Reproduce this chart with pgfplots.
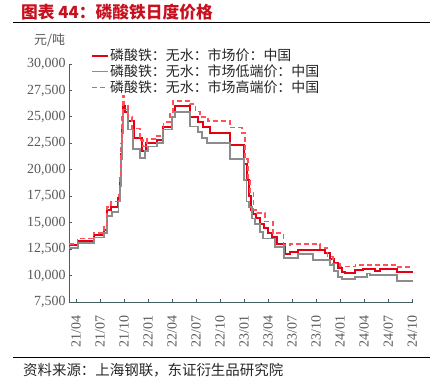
\documentclass[border=0pt]{standalone}
\usepackage{fontspec}
\setmainfont{Liberation Serif}
\newfontfamily\cjk{Noto Sans CJK SC}
\usepackage{pgfplots}
\pgfplotsset{compat=1.18}
\definecolor{titlered}{RGB}{200,16,30}
\definecolor{sred}{RGB}{230,0,18}
\definecolor{sgray}{RGB}{140,140,140}
\definecolor{sdash}{RGB}{255,80,92}
\definecolor{axiscol}{RGB}{70,95,95}
\definecolor{tickgray}{RGB}{90,90,90}
\begin{document}
\begin{tikzpicture}
\begin{axis}[
  at={(69bp,-302bp)}, anchor=south west,
  scale only axis, width=344bp, height=238bp,
  xmin=-0.875, xmax=42.1, ymin=7500, ymax=30000,
  axis lines*=left,
  axis line style={draw=axiscol, line width=1bp, -},
  tick align=inside, major tick length=3bp,
  tick style={draw=axiscol, line width=0.8bp},
  ytick={7500,10000,...,30000},
  scaled y ticks=false,
  xtick={0,3,...,42},
  xticklabels={21/04,21/07,21/10,22/01,22/04,22/07,22/10,23/01,23/04,23/07,23/10,24/01,24/04,24/07,24/10},
  x tick label style={rotate=90, anchor=east},
  xticklabel shift=10bp,
  ticklabel style={font=\fontsize{14}{16}\selectfont, text=tickgray},
  /pgf/number format/.cd, fixed, 1000 sep={,}, assume math mode=true,
  /pgfplots/.cd,
  legend style={at={(0.055,1.076)}, anchor=north west, draw=none, fill=none,
    font=\cjk\fontsize{14}{16}\selectfont, text=black!85,
    nodes={inner sep=1bp}, row sep=0.5bp},
  legend cell align=left,
  legend image code/.code={\draw[#1] (0bp,0bp) -- (16bp,0bp);},
  clip=false,
]
\addplot[const plot mark left, sred, line width=2bp] coordinates {
(-0.875,12850) (0.2,13300) (2.2,13800) (3.5,14300) (3.9,16200) (4.4,16500)
(5.3,17300) (5.45,19000) (5.6,21500) (5.75,24000) (5.9,26000) (6.1,25500)
(6.5,24600) (7.2,23000) (8.2,21800) (8.8,22500) (10.1,22800) (10.9,24000)
(12.0,25000) (12.4,26000) (14.25,25000) (15.3,24500) (15.9,24000) (16.75,23500)
(19.25,22300) (21.0,20500) (21.3,19000) (21.55,17500) (21.8,16200) (22.1,15800)
(22.5,15400) (23.0,14900) (23.5,14500) (24.0,14000) (24.5,13600) (25.1,13000)
(26.1,12000) (26.75,12200) (27.75,12400) (31.1,12100) (31.75,11600) (32.2,11150)
(32.75,10700) (33.25,10350) (33.6,10200) (34.9,10550) (35.9,10650) (37.4,10450)
(38.0,10600) (40.1,10300) (42.1,10300)
};
\addlegendentry{磷酸铁：无水：市场价：中国}
\addplot[const plot mark left, sgray, line width=1.8bp] coordinates {
(-0.875,12600) (0.2,13100) (2.2,13600) (3.5,14000) (3.9,15600) (4.5,16000)
(5.3,17000) (5.45,18500) (5.6,21000) (5.75,23500) (5.9,25700) (6.5,23800)
(7.1,22000) (8.0,21100) (8.6,21800) (9.0,22200) (10.1,22500) (10.9,23800)
(12.0,25000) (12.4,25500) (14.25,24100) (15.25,23600) (15.75,23000) (16.4,22500)
(19.25,21000) (21.0,19000) (21.3,17000) (21.65,16500) (22.0,15400) (22.4,14900)
(23.0,14150) (23.4,13500) (24.9,12700) (26.0,11650) (27.75,12050) (29.6,11500)
(31.75,11000) (32.2,10400) (32.75,9900) (33.25,9650) (34.9,9900) (36.4,10200)
(36.75,10050) (40.1,9500) (42.1,9500)
};
\addlegendentry{磷酸铁：无水：市场低端价：中国}
\addplot[const plot mark left, sdash, line width=1.5bp, dash pattern=on 5bp off 3bp] coordinates {
(-0.875,13000) (0.2,13500) (2.2,14000) (3.5,14600) (3.9,16500) (4.4,17000)
(5.3,17600) (5.45,19500) (5.6,22500) (5.75,25000) (5.85,27000) (6.0,26200)
(6.5,25000) (7.0,23900) (8.0,22800) (8.4,22200) (8.9,22900) (10.1,23200)
(10.9,24500) (11.75,25300) (12.1,26500) (14.25,26200) (14.9,25500) (15.5,25000)
(16.5,24600) (19.25,24000) (20.75,23500) (21.1,21000) (21.5,19000) (21.75,17800)
(22.15,16200) (22.6,15900) (23.6,15100) (24.6,14000) (25.9,12900) (26.75,13000)
(30.5,12600) (31.4,11800) (32.1,11150) (33.0,10850) (34.9,11000) (40.1,10800)
(42.1,10800)
};
\addlegendentry{磷酸铁：无水：市场高端价：中国}
\end{axis}
\node[anchor=west, inner sep=0pt, text=titlered, font=\cjk\bfseries\fontsize{16.8}{19}\selectfont] at (21bp,-12bp) {图表 44：磷酸铁日度价格};
\draw[line width=0.9bp] (13bp,-22.5bp) -- (430bp,-22.5bp);
\node[anchor=west, inner sep=0pt, text=tickgray, font=\cjk\fontsize{13}{15}\selectfont] at (34bp,-40bp) {元/吨};
\draw[line width=0.9bp] (13bp,-357.5bp) -- (430bp,-357.5bp);
\node[anchor=west, inner sep=0pt, text=black!85, font=\cjk\fontsize{14.5}{16}\selectfont] at (23bp,-370bp) {资料来源：上海钢联，东证衍生品研究院};
\pgfresetboundingbox
\path[use as bounding box] (0bp,0bp) rectangle (436bp,-392bp);
\end{tikzpicture}
\end{document}
